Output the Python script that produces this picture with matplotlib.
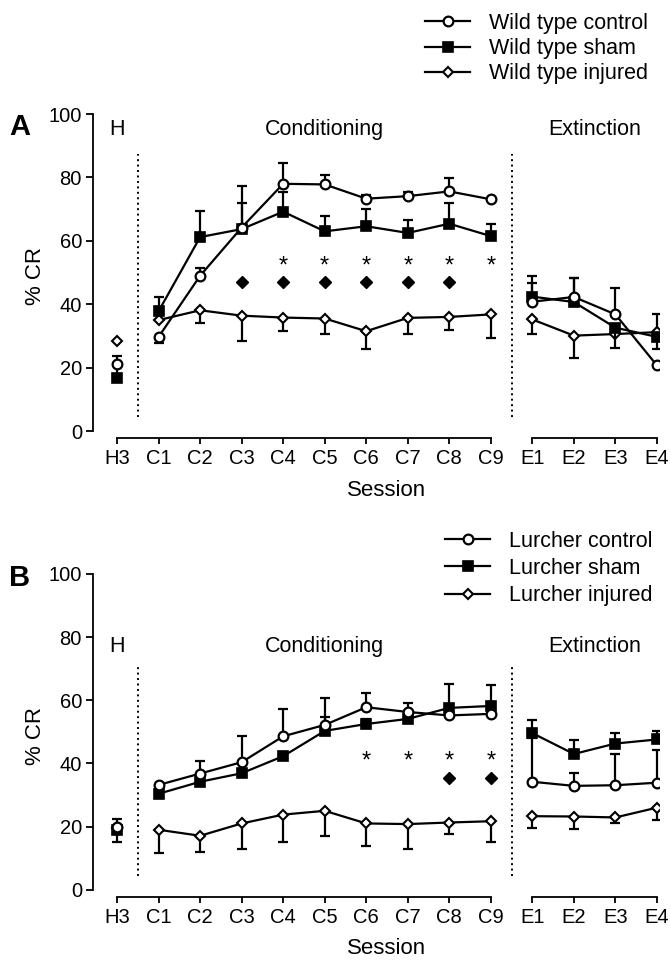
import numpy as np
import matplotlib
matplotlib.use('Agg')
import matplotlib.pyplot as plt

plt.rcParams['font.family'] = ['Liberation Sans', 'DejaVu Sans']
plt.rcParams['font.size'] = 14.5

sessions = ['H3', 'C1', 'C2', 'C3', 'C4', 'C5', 'C6', 'C7', 'C8', 'C9',
            'E1', 'E2', 'E3', 'E4']

# Panel A - wild type
wt_labels = ['Wild type control', 'Wild type sham', 'Wild type injured']
wt_control = [21.0, 29.7, 49.0, 64.2, 78.0, 77.8, 73.3, 74.1, 75.6, 73.1, 40.8, 42.3, 36.8, 20.7]
wt_control_up = [0, 0, 2.3, 13.0, 6.6, 2.9, 1.3, 1.4, 4.3, 0, 8.0, 6.0, 8.4, 0]
wt_control_dn = [0, 1.9, 0, 0, 0, 0, 0, 0, 0, 0, 0, 0, 0, 0]
wt_sham = [16.8, 37.8, 61.2, 63.7, 69.2, 63.0, 64.6, 62.5, 65.4, 61.5, 42.4, 40.7, 32.6, 29.7]
wt_sham_up = [7.0, 4.5, 8.2, 8.2, 6.3, 4.9, 5.4, 4.2, 6.4, 3.7, 4.4, 7.5, 0, 0]
wt_sham_dn = [0, 0, 0, 0, 0, 0, 0, 0, 0, 0, 0, 0, 6.4, 3.8]
wt_injured = [28.5, 35.0, 38.1, 36.4, 35.8, 35.5, 31.5, 35.7, 36.0, 36.8, 35.2, 30.1, 30.6, 31.2]
wt_injured_up = [0, 0, 0, 0, 0, 0, 0, 0, 0, 0, 0, 0, 0, 5.6]
wt_injured_dn = [0, 0, 4.0, 7.9, 4.1, 4.9, 5.6, 5.1, 4.0, 7.4, 4.5, 6.9, 0, 0]
wt_stars = ['C4', 'C5', 'C6', 'C7', 'C8', 'C9']
wt_diamonds = ['C3', 'C4', 'C5', 'C6', 'C7', 'C8']

# Panel B - Lurcher
lc_labels = ['Lurcher control', 'Lurcher sham', 'Lurcher injured']
lc_control = [20.0, 33.2, 36.8, 40.4, 48.6, 52.2, 57.8, 56.3, 55.2, 55.7, 34.2, 32.9, 33.1, 33.9]
lc_control_up = [2.5, 0, 4.1, 8.2, 8.6, 8.5, 4.6, 2.8, 0, 0, 14.0, 4.0, 10.0, 10.4]
lc_control_dn = [0, 0, 0, 0, 0, 0, 0, 0, 0, 0, 0, 0, 0, 0]
lc_sham = [18.8, 30.4, 34.2, 36.9, 42.3, 50.3, 52.5, 54.1, 57.6, 58.2, 49.6, 43.0, 46.3, 47.6]
lc_sham_up = [0, 0, 0, 0, 0, 4.3, 1.7, 0, 7.6, 6.5, 4.3, 4.3, 3.2, 2.6]
lc_sham_dn = [3.7, 0, 0, 0, 0, 0, 0, 0, 0, 0, 0, 0, 0, 0]
lc_injured = [19.5, 19.0, 17.1, 21.0, 23.8, 25.0, 21.0, 20.8, 21.3, 21.7, 23.3, 23.2, 22.9, 26.0]
lc_injured_up = [0, 0, 0, 0, 0, 0, 0, 0, 0, 0, 0, 0, 0, 0]
lc_injured_dn = [0, 7.4, 5.2, 8.1, 8.7, 8.1, 7.3, 7.9, 3.7, 6.6, 3.6, 4.0, 1.6, 3.8]
lc_stars = ['C6', 'C7', 'C8', 'C9']
lc_diamonds = ['C8', 'C9']

styles = [dict(marker='o', ms=7, mfc='white', mec='black', mew=1.6, zorder=5),
          dict(marker='s', ms=7, mfc='black', mec='black', mew=1.2, zorder=4),
          dict(marker='D', ms=5.5, mfc='white', mec='black', mew=1.5, zorder=3)]

segments = [(0, 1), (1, 10), (10, 14)]
x = np.arange(len(sessions))


def draw_panel(ax, series, labels, stars, diamonds, label_y, dot_top, star_y, dia_y):
    handles = []
    for (mean, up, dn), lab, st in zip(series, labels, styles):
        mean = np.array(mean)
        up = np.array(up)
        dn = np.array(dn)
        for a, b in segments:
            h, = ax.plot(x[a:b], mean[a:b], color='black', lw=1.6, label=lab, **st)
        handles.append(h)
        m = up > 0
        ax.errorbar(x[m], mean[m], yerr=[np.zeros(m.sum()), up[m]], fmt='none',
                    ecolor='black', elinewidth=1.6, capsize=3.8, capthick=1.6,
                    zorder=st['zorder'] - 0.5)
        m = dn > 0
        ax.errorbar(x[m], mean[m], yerr=[dn[m], np.zeros(m.sum())], fmt='none',
                    ecolor='black', elinewidth=1.6, capsize=3.8, capthick=1.6,
                    zorder=st['zorder'] - 0.5)

    for s in stars:
        ax.text(sessions.index(s), star_y, '*', ha='center', va='center', fontsize=17)
    ax.plot([sessions.index(d) for d in diamonds], [dia_y] * len(diamonds),
            linestyle='none', marker='D', ms=6, color='black')

    for xv in (0.5, 9.5):
        ax.plot([xv, xv], [4.5, dot_top], color='black', lw=1.4, linestyle=(0, (1, 1.8)))

    ax.text(0, label_y, 'H', ha='center', va='center', fontsize=15.5)
    ax.text(5, label_y, 'Conditioning', ha='center', va='center', fontsize=15.5)
    ax.text(11.5, label_y, 'Extinction', ha='center', va='center', fontsize=15.5)

    ax.set_xlim(-0.58, 13.05)
    ax.set_ylim(-2.3, 100)
    ax.set_yticks([0, 20, 40, 60, 80, 100])
    ax.set_xticks(x)
    ax.set_xticklabels(sessions)
    ax.tick_params(axis='both', width=1.3, length=5, labelsize=14.5, pad=3)
    ax.tick_params(axis='x', length=4, pad=4)
    for sp in ('top', 'right', 'bottom'):
        ax.spines[sp].set_visible(False)
    ax.spines['left'].set_bounds(0, 100)
    ax.spines['left'].set_linewidth(1.3)
    ax.plot([0, 9], [-2.3, -2.3], color='black', lw=1.3, clip_on=False)
    ax.plot([10, 13], [-2.3, -2.3], color='black', lw=1.3, clip_on=False)
    ax.set_ylabel('% CR', fontsize=16)
    ax.yaxis.set_label_coords(-0.083, 0.5)
    ax.set_xlabel('Session', fontsize=16)
    ax.xaxis.set_label_coords(0.518, -0.127)
    return handles


fig = plt.figure(figsize=(6.7, 9.6), dpi=100)
axA = fig.add_axes([0.1388, 0.5434, 0.8448, 0.3378])
axB = fig.add_axes([0.1388, 0.0656, 0.8448, 0.3365])

hA = draw_panel(axA, [(wt_control, wt_control_up, wt_control_dn),
                      (wt_sham, wt_sham_up, wt_sham_dn),
                      (wt_injured, wt_injured_up, wt_injured_dn)],
                wt_labels, wt_stars, wt_diamonds, 95, 87.5, 52, 47)
hB = draw_panel(axB, [(lc_control, lc_control_up, lc_control_dn),
                      (lc_sham, lc_sham_up, lc_sham_dn),
                      (lc_injured, lc_injured_up, lc_injured_dn)],
                lc_labels, lc_stars, lc_diamonds, 77, 71, 40.5, 35.5)

legA = fig.legend(hA, wt_labels, loc='upper left', bbox_to_anchor=(425 / 670, 1 - 13 / 960),
                  frameon=False, fontsize=15.5, handlelength=2.1, handletextpad=0.85,
                  labelspacing=0.19, borderpad=0, borderaxespad=0)
legB = fig.legend(hB, lc_labels, loc='upper left', bbox_to_anchor=(445 / 670, 1 - 531 / 960),
                  frameon=False, fontsize=15.5, handlelength=2.1, handletextpad=0.85,
                  labelspacing=0.28, borderpad=0, borderaxespad=0)

fig.text(20 / 670, 1 - 127 / 960, 'A', fontsize=21, fontweight='bold', ha='center', va='center')
fig.text(20 / 670, 1 - 578 / 960, 'B', fontsize=21, fontweight='bold', ha='center', va='center')

fig.savefig('out.png', dpi=100)
